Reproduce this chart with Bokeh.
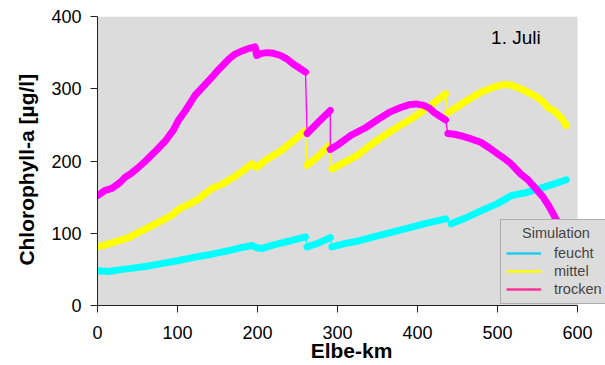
from bokeh.plotting import figure
from bokeh.models import Label, Legend, LegendItem, FixedTicker, Range1d, BoxAnnotation
from bokeh.embed import file_html
from bokeh.resources import INLINE

# ---- data (Elbe-km, Chlorophyll-a in µg/l), one list per model reach ----
trocken_km = [
    [0, 9, 18, 28, 35, 41, 50, 60, 72, 85, 95, 101, 110, 122, 133, 143, 150, 158, 165, 172, 180, 187, 193, 197,
     199, 205, 212, 220, 229, 237, 245, 252, 260],
    [262, 270, 280, 291],
    [291, 300, 316, 335, 354, 366, 379, 390, 398, 408, 415, 421, 428, 435],
    [438, 446, 454, 466, 479, 490, 500, 508, 517, 529, 538, 546, 557, 565, 570, 576, 580, 585],
]
trocken_chl = [
    [152, 159, 162, 170, 178, 182, 190, 200, 213, 228, 243, 256, 270, 291, 304, 316, 325, 334, 342, 348, 352, 355, 357, 358,
     346, 349, 350, 349, 346, 341, 334, 329, 323],
    [238, 247, 258, 270],
    [216, 222, 235, 246, 260, 268, 274, 278, 279, 277, 273, 267, 262, 257],
    [238, 237, 235, 231, 226, 218, 210, 204, 196, 182, 174, 164, 150, 136, 126, 113, 104, 92],
]
mittel_km = [
    [0, 13, 25, 39, 51, 62, 72, 83, 93, 100, 106, 116, 126, 131, 143, 156, 168, 180, 193, 199, 210, 220, 229, 237, 245, 252, 260],
    [262, 270, 280, 289],
    [293, 305, 315, 325, 340, 358, 375, 392, 405, 417, 426, 435],
    [438, 447, 458, 468, 479, 490, 500, 510, 517, 529, 540, 550, 557, 563, 570, 575, 581, 586],
]
mittel_chl = [
    [81, 85, 89, 94, 101, 107, 113, 119, 125, 132, 136, 141, 147, 152, 162, 168, 176, 185, 196, 191, 201, 208, 214, 221, 228, 235, 242],
    [194, 201, 211, 221],
    [189, 196, 202, 208, 221, 235, 247, 258, 268, 277, 285, 293],
    [267, 273, 281, 288, 295, 300, 304, 306, 305, 300, 294, 288, 282, 274, 270, 265, 258, 249],
]
feucht_km = [
    [0, 13, 25, 39, 60, 80, 100, 122, 143, 164, 180, 193, 199, 206, 220, 243, 260],
    [262, 275, 291],
    [293, 310, 325, 345, 366, 388, 408, 420, 435],
    [442, 460, 479, 500, 517, 535, 550, 570, 586],
]
feucht_chl = [
    [48, 47, 49, 51, 54, 58, 62, 67, 71, 76, 80, 83, 80, 79, 84, 90, 95],
    [81, 86, 94],
    [81, 86, 89, 95, 101, 107, 113, 116, 120],
    [113, 121, 131, 141, 152, 156, 161, 168, 174],
]

series_names = ["feucht", "mittel", "trocken"]
series_colors = ["#00FFFF", "#FFFF00", "#FF00FF"]
legend_colors = ["#22CCF0", "#FFFF00", "#FF3399"]
legend_title = "Simulation"
x_ticks = [0, 100, 200, 300, 400, 500, 600]
y_ticks = [0, 100, 200, 300, 400]
x_max, y_max = 600, 400
date_label = "1. Juli"

FONT = "Liberation Sans"
GRAY = "#DCDCDC"
NBSP = "\u00a0"

# frame reaches the right canvas edge so the legend is not clipped;
# the gray plot area itself stops at x_max
p = figure(width=605, height=365, output_backend="svg", toolbar_location=None,
           x_range=Range1d(0, 635), y_range=Range1d(0, y_max),
           min_border_left=97, min_border_right=0, min_border_top=16, min_border_bottom=60)
p.background_fill_color = "white"
p.border_fill_color = "white"
p.outline_line_color = None
p.xgrid.grid_line_color = None
p.ygrid.grid_line_color = None
p.add_layout(BoxAnnotation(left=0, right=x_max, bottom=0, top=y_max, fill_color=GRAY,
                           fill_alpha=1.0, line_color=None, level="underlay"))

for ax, ticks in ((p.xaxis, x_ticks), (p.yaxis, y_ticks)):
    ax.ticker = FixedTicker(ticks=ticks)
    ax.minor_tick_line_color = None
    ax.major_tick_in = 0
    ax.major_tick_out = 7
    ax.axis_line_color = "#222222"
    ax.major_tick_line_color = "#222222"
    ax.major_label_text_font = FONT
    ax.major_label_text_font_size = "18px"
    ax.major_label_text_color = "black"
    ax.axis_label_text_font = FONT
    ax.axis_label_text_font_size = "21px"
    ax.axis_label_text_font_style = "bold"
    ax.axis_label_text_color = "black"

p.xaxis.bounds = (0, x_max)
p.xaxis.axis_label = "Elbe-km"
# trailing no-break spaces shift the centred label a little downwards, as in the original
p.yaxis.axis_label = "Chlorophyll-a [µg/l]" + NBSP * 3
p.xaxis.major_label_standoff = 13
p.xaxis.axis_label_standoff = -3
p.yaxis.major_label_standoff = 9
p.yaxis.axis_label_standoff = 10

all_km = {"feucht": feucht_km, "mittel": mittel_km, "trocken": trocken_km}
all_chl = {"feucht": feucht_chl, "mittel": mittel_chl, "trocken": trocken_chl}

for name, col in zip(series_names, series_colors):
    kms, chls = all_km[name], all_chl[name]
    flat_x = [v for seg in kms for v in seg]
    flat_y = [v for seg in chls for v in seg]
    p.line(flat_x, flat_y, line_color=col, line_width=1.3)
    p.multi_line(kms, chls, line_color=col, line_width=7, line_cap="round", line_join="round")

items = []
for name, col in zip(series_names, legend_colors):
    # legend-only renderer, kept outside the visible ranges
    r = p.line([-50, -40], [-50, -50], line_color=col, line_width=2.5)
    items.append(LegendItem(label=name, renderers=[r]))

legend = Legend(items=items, location=(403, 1), title=NBSP * 4 + legend_title,
                title_text_font=FONT, title_text_font_size="14.5px", title_text_font_style="normal",
                title_standoff=3,
                label_text_font=FONT, label_text_font_size="14.5px",
                glyph_width=35, glyph_height=18, label_height=18, label_standoff=13,
                spacing=0, padding=5, margin=0,
                background_fill_color=GRAY, background_fill_alpha=1.0,
                border_line_color="#808080", border_line_width=1)
p.add_layout(legend, "center")

p.add_layout(Label(x=492, y=371, text=date_label, text_font=FONT, text_font_size="19px",
                   text_baseline="middle", text_color="black"))

open("out.html", "w").write(file_html(p, INLINE))
